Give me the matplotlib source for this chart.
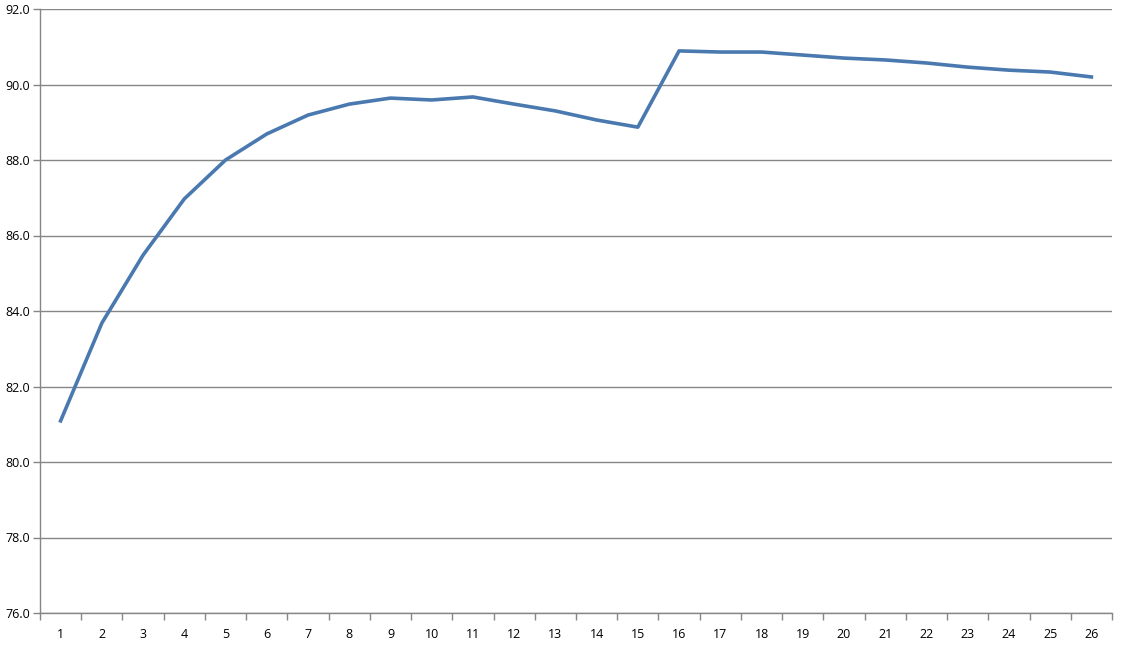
import numpy as np
import matplotlib
matplotlib.use('Agg')
import matplotlib.pyplot as plt

# Chart data ------------------------------------------------------------------
categories = [str(i) for i in range(1, 27)]
values = [81.09, 83.68, 85.48, 86.97, 88.00, 88.69, 89.19, 89.48, 89.64, 89.59,
          89.67, 89.48, 89.30, 89.06, 88.87, 90.89, 90.86, 90.86, 90.78, 90.70,
          90.65, 90.57, 90.46, 90.38, 90.33, 90.20]
yticks = [76.0, 78.0, 80.0, 82.0, 84.0, 86.0, 88.0, 90.0, 92.0]

plt.rcParams['font.family'] = ['Open Sans', 'DejaVu Sans']
GRAY = '#868686'

fig = plt.figure(figsize=(11.26, 6.46), dpi=100)
ax = fig.add_axes([40/1126, 33/646, 1072/1126, 604/646])

x = np.arange(len(categories))
ax.plot(x, values, color='#4a79b0', lw=2.6, solid_joinstyle='round')

ax.set_xlim(-0.5, len(categories) - 0.5)
ax.set_ylim(76, 92)

# y axis and gridlines
ax.set_yticks(yticks)
ax.set_yticklabels(['%.1f' % v for v in yticks])
ax.yaxis.grid(True, color=GRAY, lw=1)
ax.set_axisbelow(True)
ax.tick_params(axis='y', length=5, width=1, color=GRAY, pad=2, labelsize=9)

# x axis: labels at centers, tick marks between categories
ax.set_xticks(x)
ax.set_xticklabels(categories)
ax.set_xticks(np.arange(-0.5, len(categories)), minor=True)
ax.tick_params(axis='x', which='major', length=0, pad=11, labelsize=9)
ax.tick_params(axis='x', which='minor', length=5, width=1, color=GRAY)

for s in ['top', 'right']:
    ax.spines[s].set_visible(False)
for s in ['left', 'bottom']:
    ax.spines[s].set_color(GRAY)
    ax.spines[s].set_linewidth(1)

fig.savefig('out.png', dpi=100)
